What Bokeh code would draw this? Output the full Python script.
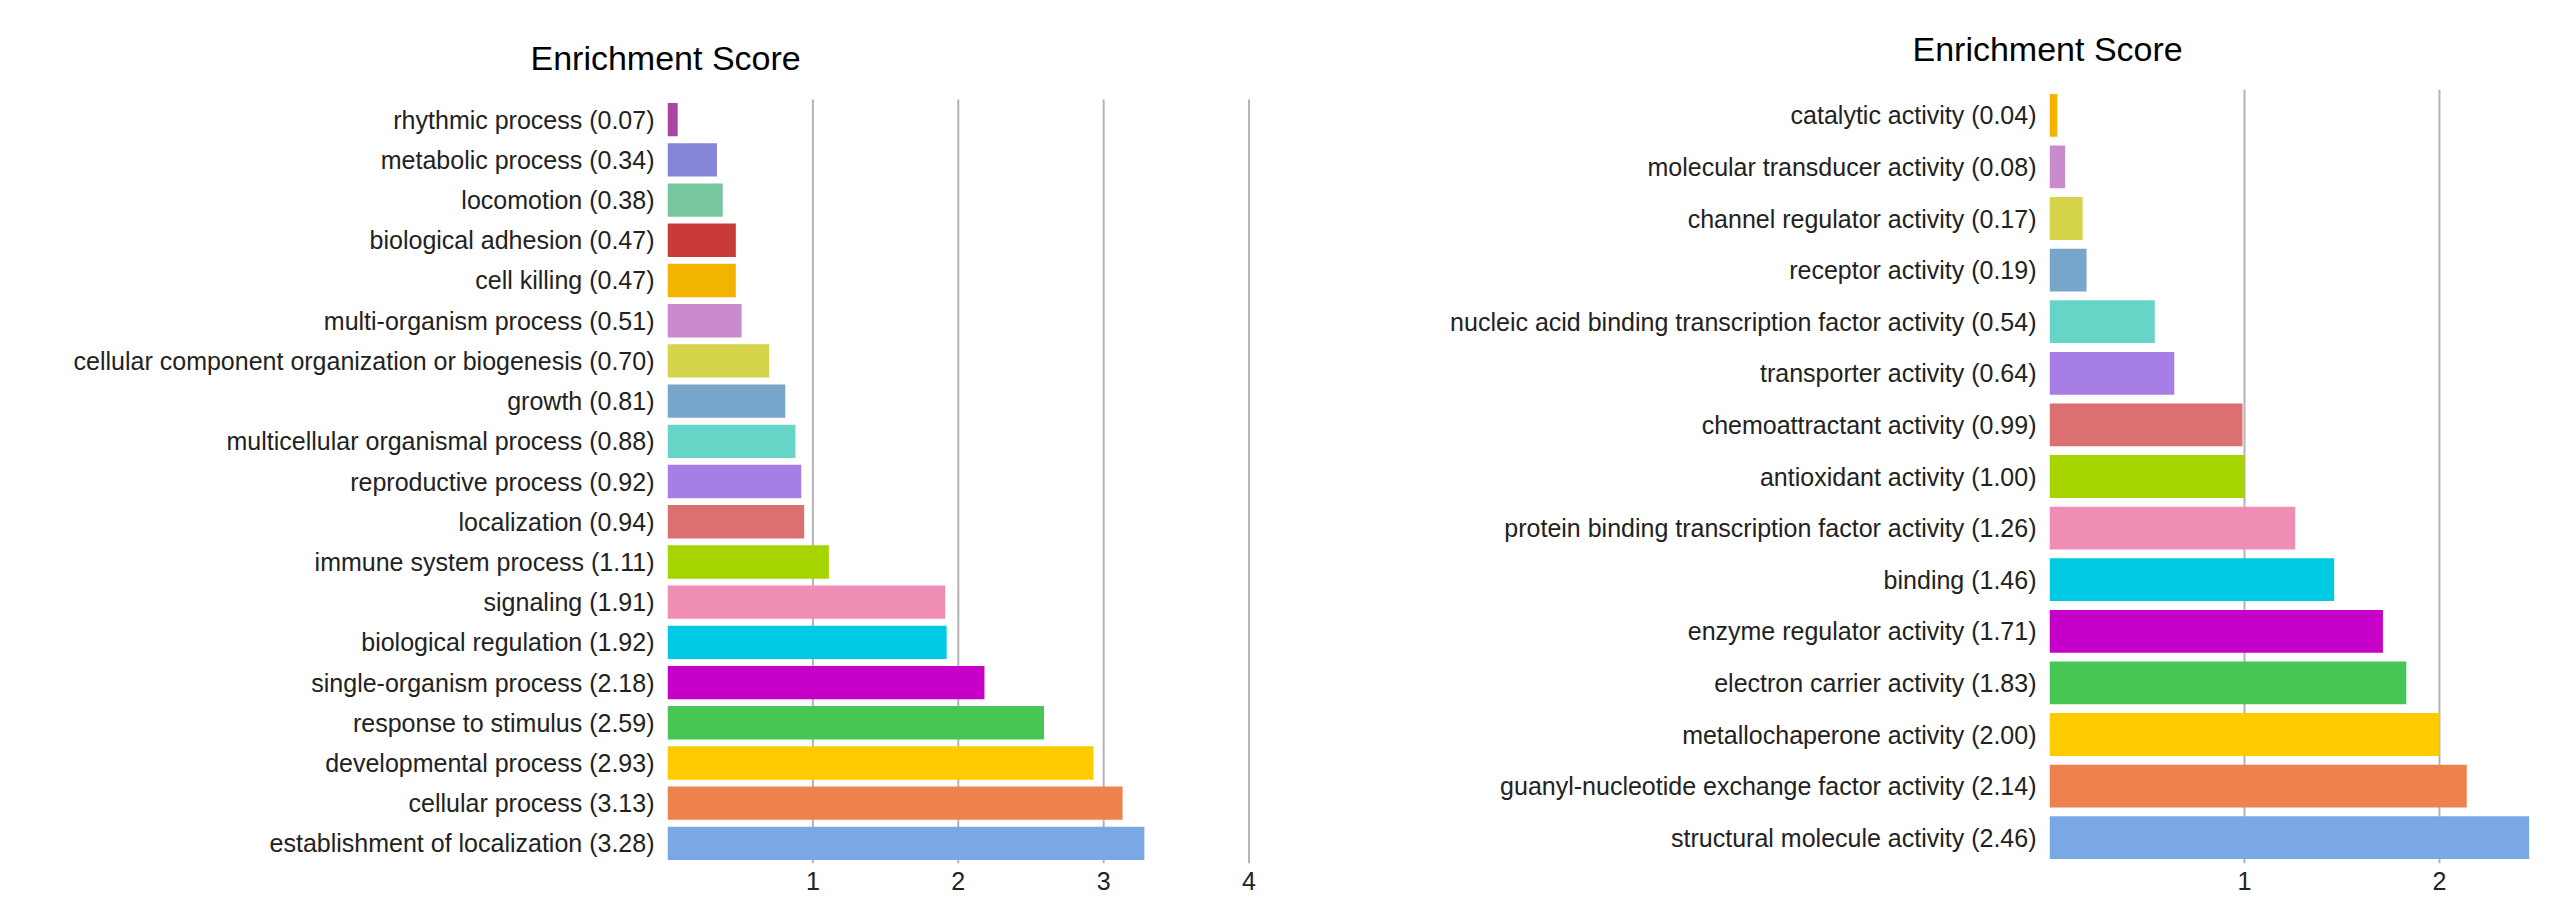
from bokeh.plotting import figure
from bokeh.layouts import row
from bokeh.models import Range1d, FixedTicker
from bokeh.embed import file_html
from bokeh.resources import INLINE

# ---- data: Biological process (left) ----
bp_terms = [
    "rhythmic process", "metabolic process", "locomotion", "biological adhesion",
    "cell killing", "multi-organism process",
    "cellular component organization or biogenesis", "growth",
    "multicellular organismal process", "reproductive process", "localization",
    "immune system process", "signaling", "biological regulation",
    "single-organism process", "response to stimulus", "developmental process",
    "cellular process", "establishment of localization",
]
bp_scores = [0.07, 0.34, 0.38, 0.47, 0.47, 0.51, 0.70, 0.81, 0.88, 0.92, 0.94,
             1.11, 1.91, 1.92, 2.18, 2.59, 2.93, 3.13, 3.28]
bp_colors = ["#a846a0", "#8585d8", "#77c6a0", "#c93a3a", "#f2b400", "#c98bcb",
             "#d5d44a", "#78a6cb", "#66d5c8", "#a77de6", "#dc7070", "#a6d400",
             "#ef8db5", "#00c9e3", "#c600c8", "#46c755", "#fecb00", "#ee824e",
             "#7aa8e5"]
bp_ticks = [1, 2, 3, 4]

# ---- data: Molecular function (right) ----
mf_terms = [
    "catalytic activity", "molecular transducer activity",
    "channel regulator activity", "receptor activity",
    "nucleic acid binding transcription factor activity", "transporter activity",
    "chemoattractant activity", "antioxidant activity",
    "protein binding transcription factor activity", "binding",
    "enzyme regulator activity", "electron carrier activity",
    "metallochaperone activity", "guanyl-nucleotide exchange factor activity",
    "structural molecule activity",
]
mf_scores = [0.04, 0.08, 0.17, 0.19, 0.54, 0.64, 0.99, 1.00, 1.26, 1.46, 1.71,
             1.83, 2.00, 2.14, 2.46]
mf_colors = ["#f2b400", "#c98bcb", "#d5d44a", "#78a6cb", "#66d5c8", "#a77de6",
             "#dc7070", "#a6d400", "#ef8db5", "#00c9e3", "#c600c8", "#46c755",
             "#fecb00", "#ee824e", "#7aa8e5"]
mf_ticks = [1, 2, 3]

TITLE = "Enrichment Score"
FONT = "Liberation Sans"


def make_chart(terms, scores, colors, ticks, width, frame_left, frame_w,
               x_end, top_pad, title_standoff):
    n = len(terms)
    labels = [f"{t} ({s:.2f})" for t, s in zip(terms, scores)]
    ys = [n - 1 - i for i in range(n)]
    p = figure(
        width=width, height=898,
        y_range=Range1d(-0.5, n - 0.5 + top_pad),
        x_range=Range1d(0, x_end),
        output_backend="svg", toolbar_location=None,
        min_border_left=frame_left, min_border_right=width - frame_left - frame_w,
        min_border_top=89, min_border_bottom=35,
        background_fill_color="white", border_fill_color="white",
    )
    p.frame_width = frame_w
    p.outline_line_color = None

    # vertical gridlines spanning the bar area
    p.segment(x0=ticks, x1=ticks, y0=[-0.5] * len(ticks),
              y1=[n - 0.5] * len(ticks), line_color="#b3b3b3", line_width=2)
    p.hbar(y=ys, left=0, right=scores, height=0.83,
           fill_color=colors, line_color=None)

    p.title.text = TITLE
    p.title.text_font = FONT
    p.title.text_font_size = "34px"
    p.title.text_font_style = "normal"
    p.title.text_color = "#000000"
    p.title.align = "left"
    p.title.offset = -137
    p.title.standoff = title_standoff

    p.grid.grid_line_color = None

    p.xaxis.ticker = FixedTicker(ticks=ticks)
    p.xaxis.axis_line_color = None
    p.xaxis.major_tick_line_color = None
    p.xaxis.minor_tick_line_color = None
    p.xaxis.major_label_standoff = 2
    p.xaxis.major_label_text_font = FONT
    p.xaxis.major_label_text_font_size = "25px"
    p.xaxis.major_label_text_color = "#222222"

    p.yaxis.ticker = FixedTicker(ticks=ys)
    p.yaxis.major_label_overrides = {y: lab for y, lab in zip(ys, labels)}
    p.yaxis.axis_line_color = None
    p.yaxis.major_tick_line_color = None
    p.yaxis.minor_tick_line_color = None
    p.yaxis.major_label_standoff = 7
    p.yaxis.major_label_text_font = FONT
    p.yaxis.major_label_text_font_size = "25px"
    p.yaxis.major_label_text_color = "#222222"
    return p


left = make_chart(bp_terms, bp_scores, bp_colors, bp_ticks,
                  width=1300, frame_left=667, frame_w=583, x_end=4.01,
                  top_pad=0.25, title_standoff=26)
right = make_chart(mf_terms, mf_scores, mf_colors, mf_ticks,
                   width=1270, frame_left=749, frame_w=521, x_end=2.672,
                   top_pad=0.0, title_standoff=44)

layout = row(left, right, spacing=0)
open("out.html", "w").write(file_html(layout, INLINE))
